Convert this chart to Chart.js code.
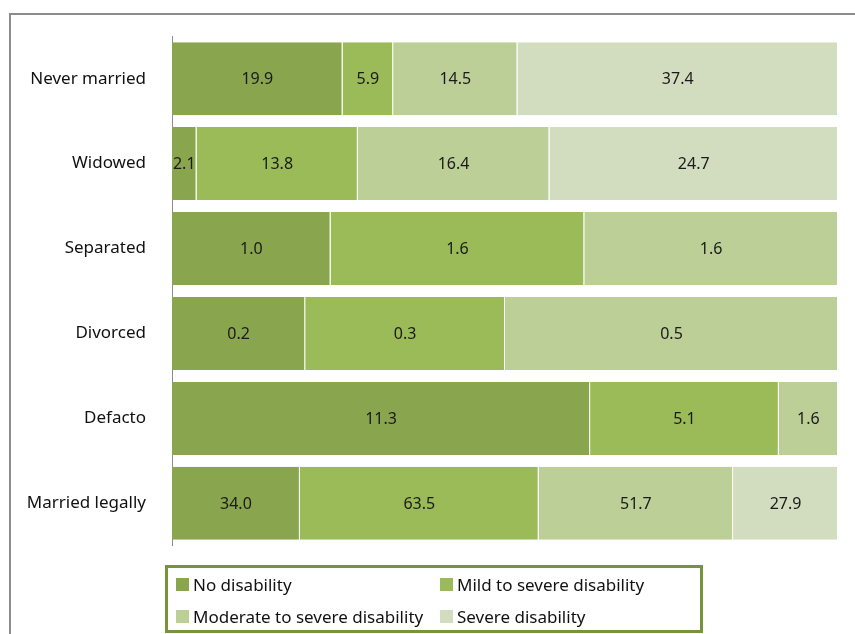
<!doctype html>
<html lang="en">
  <head>
    <meta charset="utf-8">
    <title>Disability by marital status</title>
    <script src="https://cdn.jsdelivr.net/npm/chart.js@4.4.0/dist/chart.umd.min.js"></script>
    <style>
      body { margin: 0; background: #fff; font-family: "Noto Sans", sans-serif; }
      #wrap { position: relative; width: 855px; height: 634px; overflow: hidden; }
      #frame { position: absolute; left: 9px; top: 13px; width: 900px; height: 700px;
               border-left: 2px solid #8c8c8c; border-top: 2px solid #8c8c8c; }
      #chartBox { position: absolute; left: 0; top: 0; width: 855px; height: 582px; }
      #legend { position: absolute; left: 165px; top: 565px; width: 532px; height: 62px;
                border: 3px solid #77933c; font-size: 17px; color: #111; }
      .item { position: absolute; display: flex; align-items: center; white-space: nowrap; }
      .sw { width: 13px; height: 13px; margin-right: 4px; }
    </style>
  </head>
  <body>
    <div id="wrap">
      <div id="frame"></div>
      <div id="chartBox"><canvas id="myChart"></canvas></div>
      <div id="legend"></div>
    </div>

    <script>
      var categories = ["Never married", "Widowed", "Separated", "Divorced", "Defacto", "Married legally"];
      var seriesNames = ["No disability", "Mild to severe disability", "Moderate to severe disability", "Severe disability"];
      var noDisability = [19.9, 2.1, 1.0, 0.2, 11.3, 34.0];
      var mildToSevere = [5.9, 13.8, 1.6, 0.3, 5.1, 63.5];
      var moderateToSevere = [14.5, 16.4, 1.6, 0.5, 1.6, 51.7];
      var severe = [37.4, 24.7, 0, 0, 0, 27.9];
      var colors = ["#89a54e", "#9bbb59", "#bbcf97", "#d1ddbe"];

      var raw = [noDisability, mildToSevere, moderateToSevere, severe];

      // each row is drawn as share of its own total (100% stacked)
      var totals = categories.map(function(c, i){
        return raw.reduce(function(s, arr){ return s + arr[i]; }, 0);
      });

      var datasets = raw.map(function(arr, k){
        return {
          label: seriesNames[k],
          raw: arr,
          data: arr.map(function(v, i){ return v / totals[i] * 100; }),
          backgroundColor: colors[k],
          borderColor: "#ffffff",
          borderWidth: {left: 0, right: 1, top: 0, bottom: 0},
          borderSkipped: false,
          barPercentage: 0.86,
          categoryPercentage: 1.0
        };
      });

      var valueLabels = {
        id: "valueLabels",
        afterDatasetsDraw: function(chart){
          var ctx = chart.ctx;
          ctx.save();
          ctx.font = "16px 'Noto Sans'";
          ctx.fillStyle = "#1a1a1a";
          ctx.textAlign = "center";
          ctx.textBaseline = "middle";
          chart.data.datasets.forEach(function(ds, k){
            var meta = chart.getDatasetMeta(k);
            meta.data.forEach(function(el, i){
              var v = ds.raw[i];
              if (!v) return;
              var p = el.getCenterPoint();
              ctx.fillText(v.toFixed(1), p.x, p.y + 1);
            });
          });
          ctx.restore();
        }
      };

      var ctx = document.getElementById("myChart").getContext("2d");
      var mychart = new Chart(ctx, {
        type: "bar",
        data: { labels: categories, datasets: datasets },
        options: {
          indexAxis: "y",
          responsive: true,
          maintainAspectRatio: false,
          animation: false,
          layout: { padding: { top: 33, right: 17, bottom: 15, left: 0 } },
          plugins: { legend: { display: false }, tooltip: { enabled: false } },
          scales: {
            x: { stacked: true, min: 0, max: 100, display: false },
            y: {
              stacked: true,
              grid: { display: false, drawTicks: false },
              border: { display: true, color: "#8c8c8c", width: 1 },
              ticks: { color: "#111", padding: 26, font: { family: "Noto Sans", size: 17 } },
              afterFit: function(scale){ scale.width = 172; }
            }
          }
        },
        plugins: [valueLabels]
      });

      // legend in two columns, built from the chart's datasets
      var pos = [[8, 5], [272, 5], [8, 37], [272, 37]];
      var legend = document.getElementById("legend");
      mychart.data.datasets.forEach(function(ds, k){
        var it = document.createElement("div");
        it.className = "item";
        it.style.left = pos[k][0] + "px";
        it.style.top = pos[k][1] + "px";
        it.innerHTML = '<span class="sw" style="background:' + ds.backgroundColor + '"></span>' + ds.label;
        legend.appendChild(it);
      });
    </script>
  </body>
</html>
